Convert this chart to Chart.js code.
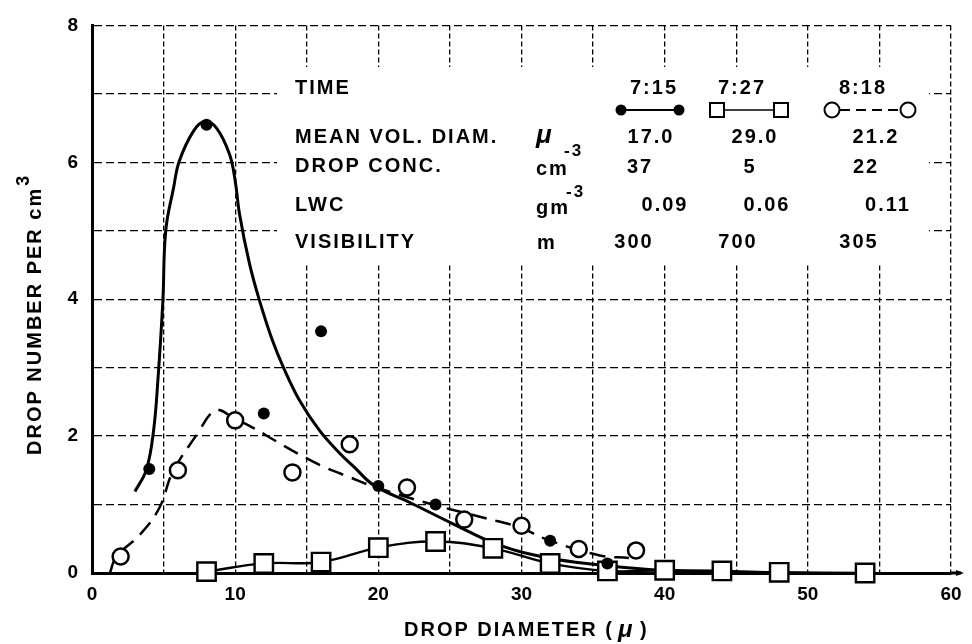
<!DOCTYPE html>
<html>
<head>
<meta charset="utf-8">
<title>Drop size distribution</title>
<script src="https://cdn.jsdelivr.net/npm/chart.js@4.4.0/dist/chart.umd.min.js"></script>
<style>
  html, body { margin: 0; padding: 0; background: #fff; }
  #wrap { width: 972px; height: 644px; }
</style>
</head>
<body>
<div id="wrap"><canvas id="graph" width="972" height="644"></canvas></div>
<script>
const diam715 = [4, 8, 12, 16, 20, 24, 32, 36];
const num715  = [1.52, 6.55, 2.33, 3.53, 1.27, 1.0, 0.47, 0.14];

const diam727 = [8, 12, 16, 20, 24, 28, 32, 36, 40, 44, 48, 54];
const num727  = [0.02, 0.14, 0.16, 0.37, 0.46, 0.36, 0.14, 0.03, 0.04, 0.03, 0.01, 0.0];

const diam818 = [2, 6, 10, 14, 18, 22, 26, 30, 34, 38];
const num818  = [0.24, 1.5, 2.23, 1.47, 1.88, 1.25, 0.78, 0.69, 0.35, 0.33];

/* hand drawn fit curves */
const fitX715 = [3.0, 3.8, 4.3, 4.6, 4.95, 5.15, 5.7, 6.1, 7.1, 7.9, 8.7, 9.6, 10.0, 10.3, 11.0, 11.7, 12.6, 13.4, 14.5, 15.9, 17.3, 18.3, 19.7, 22.2, 25.1, 28.4, 31.9, 35.4, 38.9, 42, 45];
const fitY715 = [1.19, 1.51, 2.08, 2.81, 3.98, 5.0, 5.63, 6.02, 6.46, 6.6, 6.5, 6.12, 5.73, 5.25, 4.52, 3.98, 3.40, 2.99, 2.52, 2.08, 1.75, 1.55, 1.28, 1.03, 0.73, 0.41, 0.22, 0.12, 0.05, 0.02, 0.0];

const fitX818 = [1.25, 1.7, 3.3, 4.7, 5.65, 7.5, 8.3, 8.9, 9.9, 11.0, 12.9, 14.5, 16.1, 18.0, 19.7, 23.8, 27.5, 29.8, 31.9, 35.4, 37.5];
const fitY818 = [0.0, 0.24, 0.55, 0.95, 1.48, 2.08, 2.33, 2.38, 2.26, 2.15, 1.92, 1.73, 1.56, 1.40, 1.26, 1.0, 0.8, 0.67, 0.48, 0.26, 0.22];

/* table in the upper right */
const times = ['7:15', '7:27', '8:18'];
const meanVolDiam = ['17.0', '29.0', '21.2'];
const dropConc = ['37', '5', '22'];
const lwc = ['0.09', '0.06', '0.11'];
const visibility = ['300', '700', '305'];

const xTicks = [0, 10, 20, 30, 40, 50, 60];
const yTicks = [0, 2, 4, 6, 8];

function pts(xs, ys) {
    return xs.map(function (x, i) { return {x: x, y: ys[i]}; });
}

const FONT = '"Liberation Sans", Arial, sans-serif';

function txt(ctx, s, x, y, size, align) {
    ctx.font = 'bold ' + size + 'px ' + FONT;
    ctx.textAlign = align || 'left';
    ctx.fillText(s, x, y);
}

const tablePlugin = {
    id: 'table',
    beforeDatasetsDraw: function (chart) {
        /* white box that hides the grid under the table */
        const ctx = chart.ctx;
        ctx.save();
        ctx.fillStyle = '#fff';
        ctx.fillRect(277, 67, 652, 196);
        ctx.restore();
    },
    afterDraw: function (chart) {
        const ctx = chart.ctx;
        const area = chart.chartArea;
        ctx.save();
        ctx.fillStyle = '#000';
        ctx.strokeStyle = '#000';
        ctx.textBaseline = 'middle';
        ctx.letterSpacing = '2px';

        /* row labels */
        txt(ctx, 'TIME', 295, 88, 20);
        txt(ctx, 'MEAN VOL. DIAM.', 295, 137, 20);
        txt(ctx, 'DROP CONC.', 295, 166, 20);
        txt(ctx, 'LWC', 295, 205, 20);
        txt(ctx, 'VISIBILITY', 295, 242, 20);

        /* units */
        ctx.font = 'italic bold 26px ' + FONT;
        ctx.textAlign = 'left';
        ctx.fillText('\u03bc', 536, 136);
        txt(ctx, 'cm', 536, 169, 20);
        txt(ctx, '-3', 564, 151, 17);
        txt(ctx, 'gm', 536, 208, 20);
        txt(ctx, '-3', 566, 192, 17);
        txt(ctx, 'm', 537, 243, 20);

        /* columns */
        const colTime = [654, 742, 863];
        const colDiam = [651, 755, 876];
        const colConc = [640, 750, 866];
        const colLwc  = [665, 767, 888];
        const colVis  = [634, 738, 859];
        for (let i = 0; i < 3; i++) {
            txt(ctx, times[i], colTime[i], 88, 20, 'center');
            txt(ctx, meanVolDiam[i], colDiam[i], 137, 20, 'center');
            txt(ctx, dropConc[i], colConc[i], 167, 20, 'center');
            txt(ctx, lwc[i], colLwc[i], 205, 20, 'center');
            txt(ctx, visibility[i], colVis[i], 242, 20, 'center');
        }

        /* legend marks */
        const ly = 110;
        ctx.lineWidth = 2;
        ctx.beginPath(); ctx.moveTo(621, ly); ctx.lineTo(679, ly); ctx.stroke();
        [621, 679].forEach(function (x) {
            ctx.beginPath(); ctx.arc(x, ly, 5.5, 0, Math.PI * 2); ctx.fill();
        });

        ctx.lineWidth = 1.6;
        ctx.beginPath(); ctx.moveTo(724, ly); ctx.lineTo(774, ly); ctx.stroke();
        ctx.lineWidth = 2;
        [717, 781].forEach(function (x) {
            ctx.strokeRect(x - 7, ly - 7, 14, 14);
        });

        ctx.setLineDash([10, 6]);
        ctx.beginPath(); ctx.moveTo(840, ly); ctx.lineTo(900, ly); ctx.stroke();
        ctx.setLineDash([]);
        [832, 908].forEach(function (x) {
            ctx.beginPath(); ctx.arc(x, ly, 7.5, 0, Math.PI * 2);
            ctx.fillStyle = '#fff'; ctx.fill(); ctx.stroke();
        });
        ctx.fillStyle = '#000';

        /* arrow at end of x axis */
        ctx.lineWidth = 3;
        ctx.beginPath(); ctx.moveTo(area.right, area.bottom); ctx.lineTo(area.right + 10, area.bottom); ctx.stroke();
        ctx.beginPath();
        ctx.moveTo(area.right + 13, area.bottom);
        ctx.lineTo(area.right + 5, area.bottom - 3);
        ctx.lineTo(area.right + 5, area.bottom + 3);
        ctx.closePath(); ctx.fill();

        /* axis titles */
        ctx.textBaseline = 'middle';
        ctx.font = 'bold 20px ' + FONT;
        const xa = 'DROP DIAMETER (';
        const wa = ctx.measureText(xa).width;
        const startX = 404;
        txt(ctx, xa, startX, 630, 20);
        ctx.font = 'italic bold 24px ' + FONT;
        ctx.fillText('\u03bc', startX + wa + 4, 630);
        txt(ctx, ')', startX + wa + 26, 630, 20);

        ctx.translate(35, 455);
        ctx.rotate(-Math.PI / 2);
        txt(ctx, 'DROP NUMBER PER cm', 0, 0, 20);
        ctx.font = 'bold 20px ' + FONT;
        const wy = ctx.measureText('DROP NUMBER PER cm').width;
        txt(ctx, '3', wy + 1, -11, 18);
        ctx.restore();
    }
};

const context = document.getElementById('graph');

new Chart(context, {
    type: 'scatter',
    data: {
        datasets: [
            {
                label: '7:15',
                data: pts(diam715, num715),
                pointStyle: 'circle',
                pointRadius: 6,
                backgroundColor: '#000',
                borderColor: '#000',
                borderWidth: 0,
                clip: false,
                order: 0
            },
            {
                label: '8:18',
                data: pts(diam818, num818),
                pointStyle: 'circle',
                pointRadius: 8,
                backgroundColor: '#fff',
                borderColor: '#000',
                borderWidth: 2.5,
                clip: false,
                order: 0
            },
            {
                label: '7:27',
                data: pts(diam727, num727),
                showLine: true,
                tension: 0.4,
                pointStyle: 'rect',
                pointRadius: 13,
                backgroundColor: '#fff',
                borderColor: '#000',
                borderWidth: 2.4,
                clip: false,
                order: 1
            },
            {
                label: 'fit 7:15',
                data: pts(fitX715, fitY715),
                showLine: true,
                tension: 0.4,
                pointRadius: 0,
                borderColor: '#000',
                borderWidth: 3,
                order: 2
            },
            {
                label: 'fit 8:18',
                data: pts(fitX818, fitY818),
                showLine: true,
                tension: 0.4,
                pointRadius: 0,
                borderColor: '#000',
                borderWidth: 2.5,
                borderDash: [16, 9],
                order: 2
            }
        ]
    },
    options: {
        responsive: false,
        animation: false,
        layout: { padding: { top: 24, right: 21, left: 0, bottom: 0 } },
        plugins: { legend: { display: false }, tooltip: { enabled: false } },
        scales: {
            x: {
                type: 'linear',
                min: 0,
                max: 60,
                afterFit: function (scale) { scale.height = 71; },
                afterBuildTicks: function (scale) {
                    scale.ticks = [];
                    for (let v = 0; v <= 60; v += 5) scale.ticks.push({value: v});
                },
                ticks: {
                    color: '#000',
                    padding: 10,
                    maxRotation: 0,
                    font: { family: FONT, size: 19, weight: 'bold' },
                    callback: function (v) { return xTicks.indexOf(v) >= 0 ? String(v) : ''; }
                },
                grid: { color: '#000', lineWidth: 1.3, drawTicks: false },
                border: { display: true, color: '#000', width: 3, dash: [5, 3] }
            },
            y: {
                type: 'linear',
                min: 0,
                max: 8,
                afterFit: function (scale) { scale.width = 92; },
                afterBuildTicks: function (scale) {
                    scale.ticks = [];
                    for (let v = 0; v <= 8; v += 1) scale.ticks.push({value: v});
                },
                ticks: {
                    color: '#000',
                    padding: 14,
                    font: { family: FONT, size: 19, weight: 'bold' },
                    callback: function (v) { return yTicks.indexOf(v) >= 0 ? String(v) : ''; }
                },
                grid: { color: '#000', lineWidth: 1.3, drawTicks: false },
                border: { display: true, color: '#000', width: 3, dash: [8, 4] }
            }
        }
    },
    plugins: [tablePlugin]
});
</script>
</body>
</html>
